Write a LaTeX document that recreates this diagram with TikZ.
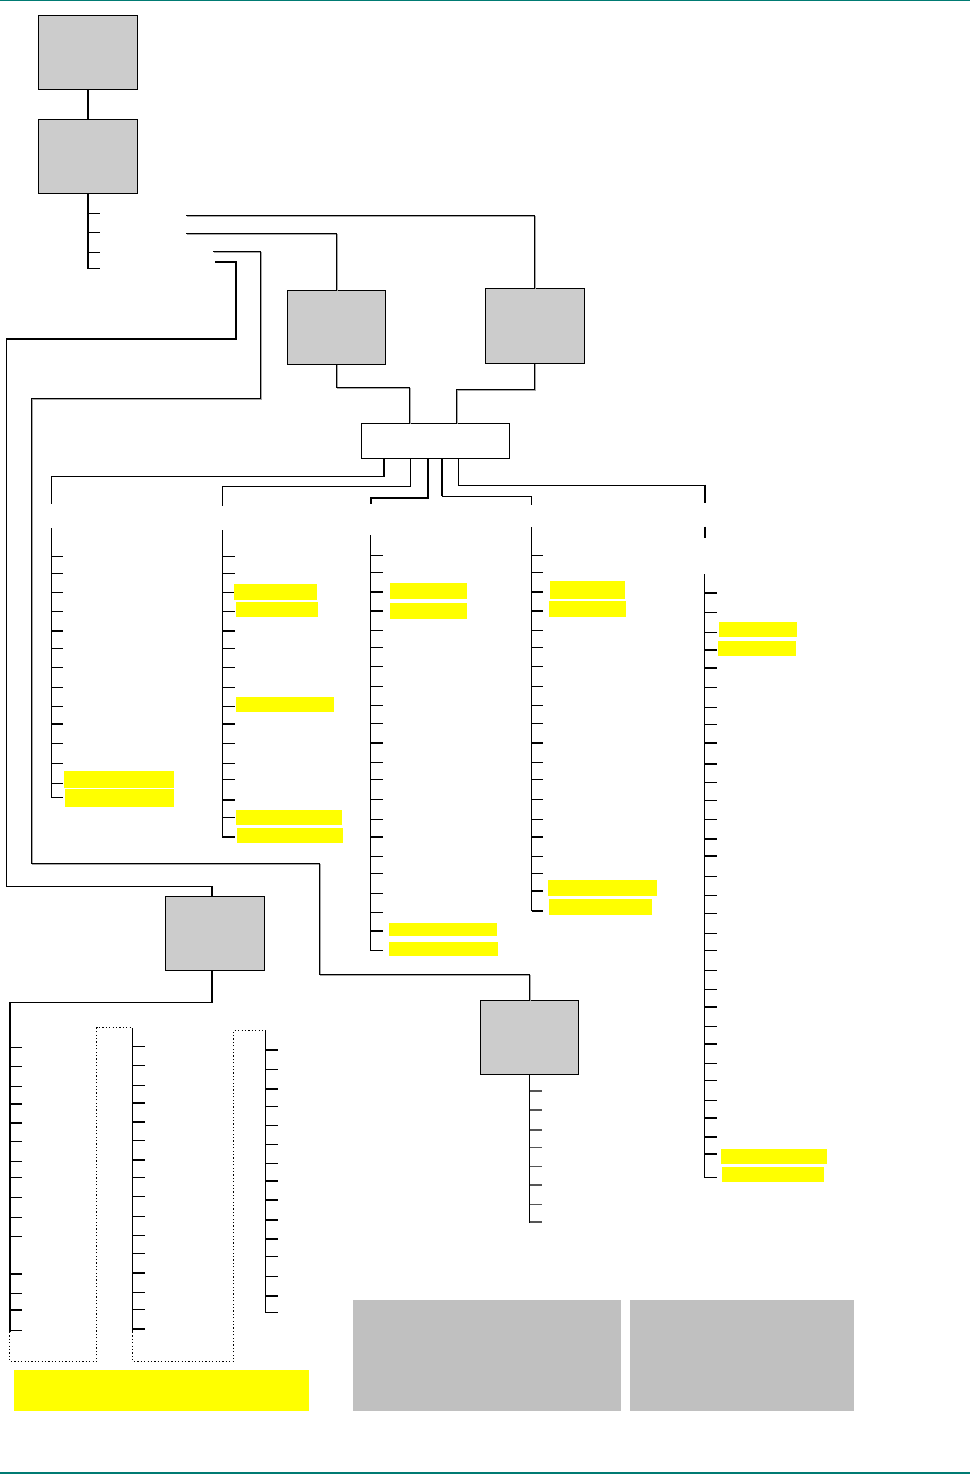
\documentclass[tikz,border=0pt]{standalone}
\definecolor{boxgray}{HTML}{CCCCCC}
\definecolor{panelgray}{HTML}{C0C0C0}
\definecolor{hlyellow}{HTML}{FFFF00}
\definecolor{tealline}{HTML}{007B73}
\definecolor{tickgray}{HTML}{555555}
\newcommand\tickcol[7]{% color, x, ytop, ybot, len, vertical width, list
  \draw[line width=#6pt,line cap=rect] (#2,#3) -- (#2,#4);
  \foreach \yy/\ww in {#7} {\draw[#1,line width=\ww pt] (#2,\yy) -- ++(#5,0);}
}
\begin{document}
\begin{tikzpicture}[x=1pt,y=-1pt,
  box/.style={draw=black,line width=1pt,fill=boxgray,inner sep=0pt,outer sep=0pt,anchor=north west},
  wire/.style={draw=black,line width=1pt},
  heavy/.style={draw=black,line width=2pt},
  shadowed/.style={preaction={draw=black!35,line width=1pt,transform canvas={shift={(1pt,-1pt)}}}},
  dotline/.style={draw=black,line width=1pt,dash pattern=on 1.2pt off 2.2pt},
  hl/.style={fill=hlyellow},
  panel/.style={fill=panelgray}]
\useasboundingbox (0,0) rectangle (970,1474);
\fill[white] (0,0) rectangle (970,1474);
\draw[tealline,line width=1.5pt] (0,0.75) -- (970,0.75);
\draw[tealline,line width=2pt] (0,1473) -- (970,1473);

% boxes
\node[box,minimum width=99pt,minimum height=74pt] (A) at (38.3,16) {};
\node[box,minimum width=99pt,minimum height=74pt] (B) at (38.3,120) {};
\node[box,minimum width=98pt,minimum height=74pt] (C) at (287,290) {};
\node[box,minimum width=99pt,minimum height=75pt] (D) at (485,288) {};
\node[box,fill=white,minimum width=148.4pt,minimum height=35pt] (E) at (361,423.3) {};
\node[box,minimum width=99.4pt,minimum height=74pt] (G) at (165.3,896.4) {};
\node[box,minimum width=97.8pt,minimum height=74pt] (F) at (480.4,1000.3) {};

% top connectors
\draw[heavy] (A.south) -- (B.north);
\tickcol{black}{87.8}{194}{268}{12.2}{2}{213/1,232/1,252/1,268/1}

\coordinate (p1) at (186,215);
\coordinate (p2) at (186,233);
\coordinate (p3) at (213,251.5);
\coordinate (p4) at (215,262);
\draw[wire,shadowed] (p1) -| (D.north);
\draw[wire,shadowed] (p2) -| (C.north);
\draw[wire,shadowed] (p3) -- (260,251.5) -- (260,398) -- (31,398) -- (31,863.6) -- (319,863.6) -- (319,974.3) -| (F.north);
\draw[wire,line width=1.3pt] (p4) -- (236,262) -- (236,339) -- (6.5,339) -- (6.5,886.4) -| ([xshift=-3pt]G.north);

% C, D into E
\draw[wire,shadowed] (C.south) |- (409.5,387.7) -- ([xshift=48.5pt]E.north west);
\draw[wire,shadowed] (D.south) |- (456,389) -- ([xshift=95pt]E.north west);

% E outputs
\draw[wire] ([xshift=23pt]E.south west) |- (51.3,476) -- (51.3,503.5);
\draw[line width=1.8pt] ([xshift=23pt]E.south west) -- (384,476);
\draw[wire] ([xshift=49pt]E.south west) |- (222.3,486.3) -- (222.3,505.7);
\draw[heavy] ([xshift=67pt]E.south west) |- (370.7,498) -- (370.7,504);
\draw[wire] ([xshift=81pt]E.south west) |- (531.5,496) -- (531.5,504.7);
\draw[heavy] ([xshift=81pt]E.south west) -- (442,496);
\draw[wire] ([xshift=97.5pt]E.south west) |- (704.5,485);
\draw[heavy] (704.5,484.5) -- (704.5,503);
\draw[heavy] (704.5,526.5) -- (704.5,537.7);

% columns
\tickcol{black}{51.3}{528}{797.3}{12}{1}{556.3/1,573/1,592/1,611/1,630.7/1.9,648/1,667/1,687.3/1,706.3/1,723.7/1.9,743.3/1,763.3/1,783.3/1,797.3/1}
\tickcol{black}{222.3}{530}{836.7}{12.7}{1}{556/1,573/1,592/1,611/1,630.7/1.9,648/1,667/1,687.3/1,706.3/1,723.7/1.9,743.3/1,763.3/1,779.3/1,799.7/1.9,817/1,836.7/1.6}
\tickcol{black}{370.7}{535}{950.3}{12}{1}{555.3/1,572.3/1,591.7/1.9,610.7/1.9,630.3/1,647.3/1,666.3/1,686.3/1,705.3/1,723.3/1,743/1.9,762.7/1,779.3/1,799.3/1,819.3/1,837/1.9,856.3/1,873.3/1,893.3/1,912.7/1,931/1.9,950.3/1}
\tickcol{black}{531.5}{527.3}{910.7}{11.7}{1}{555.3/1,572.3/1,591.7/1.9,610.7/1.9,630.3/1,647.3/1,666.3/1,686.3/1,705.3/1,723.3/1,743/1.9,762.7/1,779.3/1,799.3/1,819.3/1,837/1.9,856.3/1,873.3/1,890.7/1.9,910.7/1.9}
\tickcol{black}{704.5}{574.6}{1177.2}{12}{1}{593.3/1.9,612/1,632.6/1,649.6/1.9,668.3/1.9,687.5/1,707.6/1,724.6/1,743.3/1.9,763.8/1.9,782.6/1,800.4/1,819.6/1,839.3/1.9,856.3/1.9,876.3/1,895.5/1.9,913.4/1,933.5/1,950.4/1,970.5/1,989.3/1,1006.7/1.9,1026.3/1,1043.75/1.9,1063.4/1,1080.4/1,1100.4/1,1117.9/1.9,1136.6/1.9,1154/1.9,1177.2/1}
\tickcol{tickgray}{529.6}{1074.3}{1222}{12.4}{1}{1091/1.4,1110/1.4,1130/1.4,1147.3/1.4,1166.3/1.4,1185/1.4,1204.7/1.4,1222/1.4}

% G outputs
\draw[heavy] ([xshift=-3pt]G.south) -- (212,1002.5);
\draw[wire] (212,1002.5) -- (9.7,1002.5);
\tickcol{black}{9.7}{1002.5}{1330.7}{12.3}{2}{1047.1/1,1066.4/1,1086.4/1,1103.9/1.9,1122.9/1.9,1141.4/1,1161.8/1,1177.9/1,1197.1/1,1217.1/1,1236.4/1,1273.6/1.9,1293.2/1,1309.6/1.9,1330.4/1}
\tickcol{black}{132.7}{1028}{1331.4}{12.3}{1}{1046.4/1,1065.4/1,1085.4/1,1102.9/1.9,1121.8/1.9,1140.4/1,1160/1.9,1177.1/1,1196.4/1,1216.4/1,1235.4/1,1253.2/1,1272.9/1.9,1292.5/1,1309.3/1,1328.6/1.9}
\tickcol{black}{265.7}{1030.4}{1312.5}{12.6}{1}{1050/1.9,1069.3/1,1088.9/1.9,1106.4/1,1125.4/1,1144.3/1,1163.2/1,1181.1/1.9,1200/1.9,1220/1.9,1238.9/1.9,1256.4/1,1276.4/1,1296.1/1.9,1312.5/1}
\draw[dotline] (9.7,1332) -- (9.7,1361.4) -- (96.7,1361.4) -- (96.7,1027.9) -- (132.7,1027.9);
\draw[dotline] (132.7,1332) -- (132.7,1361.4) -- (233.7,1361.4) -- (233.7,1030.4) -- (265.7,1030.4);

% highlights
\fill[hl] (64,771) rectangle (174,787.7);
\fill[hl] (65,789) rectangle (174,807);
\fill[hl] (234,583.7) rectangle (317,599.7);
\fill[hl] (236,602) rectangle (318,617);
\fill[hl] (236,697) rectangle (334,711.7);
\fill[hl] (236,809.7) rectangle (342,825);
\fill[hl] (237,828) rectangle (343.3,843);
\fill[hl] (390,583) rectangle (467,599);
\fill[hl] (390,603.3) rectangle (467,619);
\fill[hl] (389,923) rectangle (497,935.7);
\fill[hl] (389,942) rectangle (498,955.7);
\fill[hl] (550,581) rectangle (625,599);
\fill[hl] (549,601) rectangle (626,617);
\fill[hl] (548,880) rectangle (657,895.7);
\fill[hl] (549,899) rectangle (652,915);
\fill[hl] (719,621.9) rectangle (797,637);
\fill[hl] (718,641) rectangle (796,655.8);
\fill[hl] (721,1149) rectangle (827,1163.8);
\fill[hl] (722,1167) rectangle (824,1181.7);
\fill[hl] (14,1370) rectangle (309,1410.7);
\fill[panel] (353,1300) rectangle (621,1410.7);
\fill[panel] (630,1300) rectangle (854,1410.7);
\end{tikzpicture}
\end{document}
